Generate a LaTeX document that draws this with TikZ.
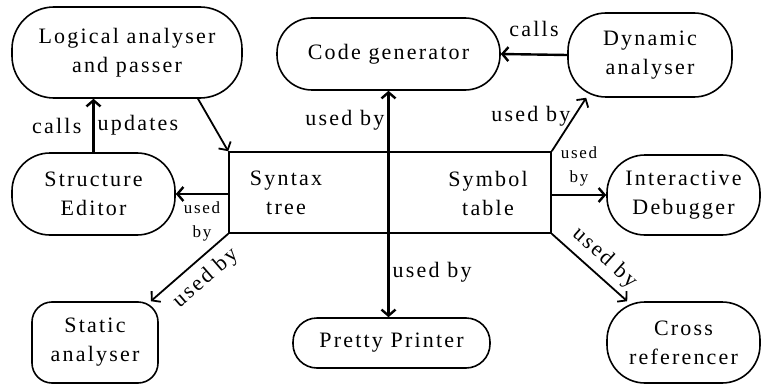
\documentclass[tikz,border=0pt]{standalone}
\usepackage{fontspec}
\setmainfont{Liberation Serif}[LetterSpace=10.0]
\usetikzlibrary{arrows.meta,positioning}
\tikzstyle{block} = [rectangle, draw, line width=1.6pt, align=center,
  rounded corners=38pt, inner sep=0pt, font=\fontsize{22}{29}\selectfont]
\tikzstyle{line} = [draw, line width=2.4pt, ->]
\tikzstyle{slim} = [line width=1.8pt]
\tikzstyle{tag} = [font=\fontsize{22}{29}\selectfont, inner sep=3pt, align=center]
\tikzstyle{smalltag} = [font=\fontsize{17}{24}\selectfont, inner sep=2pt, align=center]
\tikzset{>={Straight Barb[length=6pt,width=14pt]}}

\begin{document}
\begin{tikzpicture}[x=1pt, y=-1pt]
  \useasboundingbox (0,0) rectangle (762,385);

  %%%%%%%%%%%%%%%%%%%%%%%%%%%%%%%%%%%%%%%%%%%%%%%%%%%%%%%%%%%%%%
  %                    SYNTAX TREE / SYMBOL TABLE              %
  %%%%%%%%%%%%%%%%%%%%%%%%%%%%%%%%%%%%%%%%%%%%%%%%%%%%%%%%%%%%%%

  \node [draw, line width=1.6pt, minimum width=322pt, minimum height=81pt,
    inner sep=0pt] (table) at (390,192.5) {};
  \node [tag] (syntax) at (286,193) {Syntax\\tree};
  \node [tag] (symbol) at (488,193) {Symbol\\table};

  %%%%%%%%%%%%%%%%%%%%%%%%%%%%%%%%%%%%%%%%%%%%%%%%%%%%%%%%%%%%%%
  %                    TOOLS                                   %
  %%%%%%%%%%%%%%%%%%%%%%%%%%%%%%%%%%%%%%%%%%%%%%%%%%%%%%%%%%%%%%

  \node [block, minimum width=230pt, minimum height=91pt, rounded corners=42pt]
    (logic) at (127,52.5) {Logical analyser\\and passer};
  \node [block, minimum width=223pt, minimum height=72pt, rounded corners=35pt]
    (codegen) at (388.5,54) {Code generator};
  \node [block, minimum width=164pt, minimum height=84pt]
    (dynamic) at (650,55) {Dynamic\\analyser};
  \node [block, minimum width=163pt, minimum height=82pt]
    (editor) at (93.5,194) {Structure\\Editor};
  \node [block, minimum width=153pt, minimum height=80pt]
    (debugger) at (683.5,195) {Interactive\\Debugger};
  \node [block, minimum width=126pt, minimum height=81pt, rounded corners=20pt]
    (static) at (95,342.5) {Static\\analyser};
  \node [block, minimum width=197pt, minimum height=50pt, rounded corners=24pt]
    (pretty) at (391.5,343) {Pretty Printer};
  \node [block, minimum width=153pt, minimum height=81pt]
    (cross) at (683.5,342.5) {Cross\\referencer};

  %%%%%%%%%%%%%%%%%%%%%%%%%%%%%%%%%%%%%%%%%%%%%%%%%%%%%%%%%%%%%%
  %                    ARROWS                                  %
  %%%%%%%%%%%%%%%%%%%%%%%%%%%%%%%%%%%%%%%%%%%%%%%%%%%%%%%%%%%%%%

  \draw [line] (editor.north) -- (editor.north |- logic.south)
    node [tag, midway, left=8pt] {calls}
    node [tag, midway, right] {updates};
  \draw [line, slim] ([xshift=71pt]logic.south) -- (table.north west);
  \draw [line] (table.west |- editor.east) -- (editor.east)
    node [smalltag, midway, below=5pt] {used\\by};
  \draw [line, slim] (table.south west) -- ([xshift=-8pt]static.north east)
    node [tag, pos=0.45, sloped, below=5pt] {used by};

  \draw [line, <->] (codegen.south) -- (codegen.south |- pretty.north)
    node [tag, pos=0.13, left] {used by}
    node [tag, pos=0.8, right] {used by};

  \draw [line] (dynamic.west) -- (codegen.east)
    node [tag, midway, above=14pt] {calls};
  \draw [line, slim] (table.north east) -- ([xshift=19pt]dynamic.south west)
    node [tag, pos=0.65, left] {used by};
  \draw [line] (table.east |- debugger.west) -- (debugger.west)
    node [smalltag, midway, above=6pt] {used\\by};
  \draw [line, slim] (table.south east) -- ([xshift=21pt]cross.north west)
    node [tag, pos=0.55, sloped, above=3pt] {used by};

\end{tikzpicture}
\end{document}
